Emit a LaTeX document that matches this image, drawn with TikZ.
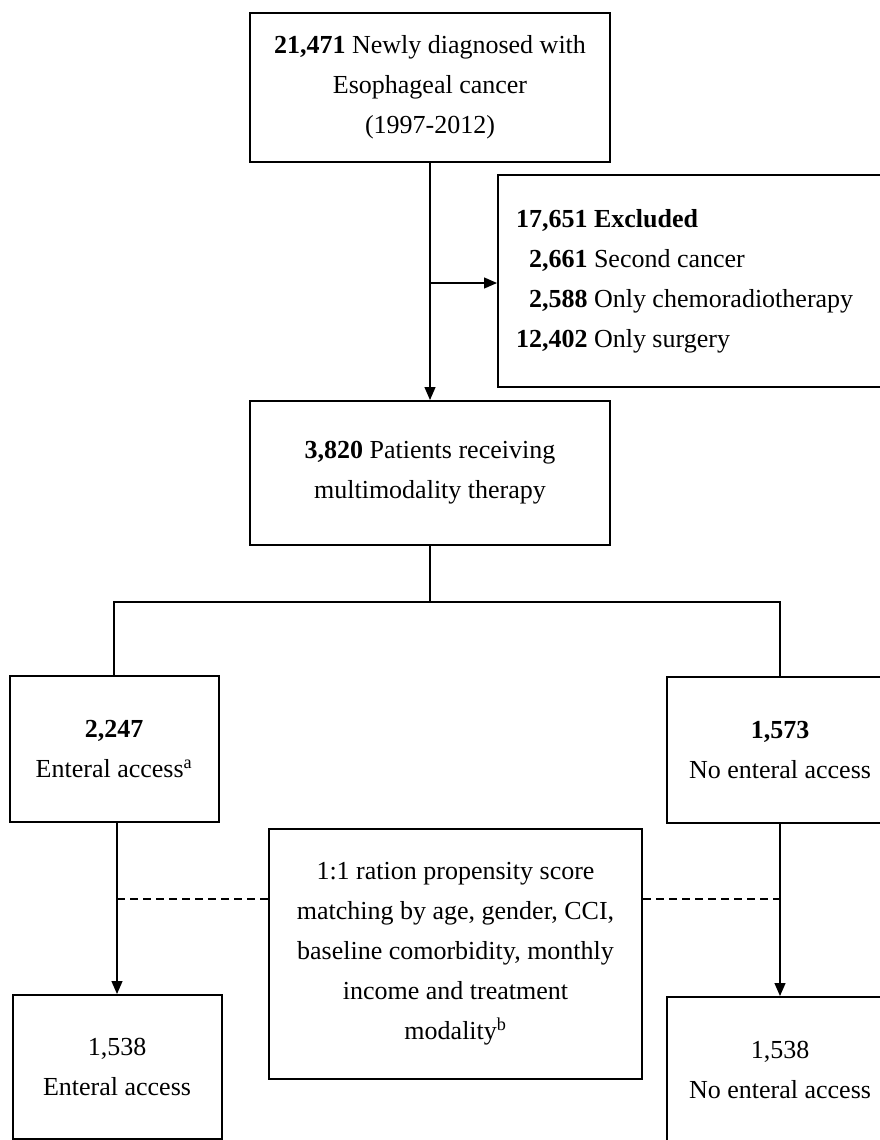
\documentclass[tikz,border=0pt]{standalone}
\usepackage{fontspec}
\setmainfont{Liberation Serif}
\usetikzlibrary{arrows.meta}
\begin{document}
\begin{tikzpicture}[x=1pt,y=1pt,
  box/.style={draw, line width=2pt, inner sep=0pt, align=center,
    font=\fontsize{26pt}{40pt}\selectfont},
  conn/.style={line width=1.3pt},
  arr/.style={conn, -{Triangle[length=13pt,width=11pt]}},
  dsh/.style={line width=1.3pt, dash pattern=on 8pt off 5pt}]
\useasboundingbox (0,0) rectangle (880,-1140);
\fill[white] (0,0) rectangle (880,-1140);

\node[box, minimum width=360, minimum height=149] (top) at (430,-87.5)
  {\textbf{21,471} Newly diagnosed with\\Esophageal cancer\\(1997-2012)};
\node[box, anchor=west, text width=360pt, align=flush left, inner xsep=18pt,
  minimum height=212] (excl) at (497,-281)
  {\textbf{17,651 Excluded}\\
   \phantom{1}\textbf{2,661} Second cancer\\
   \phantom{1}\textbf{2,588} Only chemoradiotherapy\\
   \textbf{12,402} Only surgery};
\node[box, minimum width=360, minimum height=144] (mid) at (430,-473)
  {\textbf{3,820} Patients receiving\\multimodality therapy};
\node[box, minimum width=209, minimum height=146] (left) at (114,-749)
  {\textbf{2,247}\\Enteral access\textsuperscript{a}};
\node[box, minimum width=226, minimum height=146] (right) at (780,-750)
  {\textbf{1,573}\\No enteral access};
\node[box, minimum width=373, minimum height=250] (match) at (455.5,-954)
  {1:1 ration propensity score\\matching by age, gender, CCI,\\baseline comorbidity, monthly\\income and treatment\\modality\textsuperscript{b}};
\node[box, minimum width=209, minimum height=144] (bl) at (117,-1067)
  {1,538\\Enteral access};
\node[box, minimum width=226, minimum height=146] (br) at (780,-1070)
  {1,538\\No enteral access};

\draw[arr] (top.south) -- (mid.north);
\coordinate (jx) at (430,-283);
\draw[arr] (jx) -- (jx -| excl.west);

\coordinate (split) at (430,-602);
\draw[conn] (mid.south) -- (split);
\draw[conn] (left.north) |- (split) -| (right.north);

\draw[arr] (bl.north |- left.south) -- (bl.north);
\draw[arr] (right.south) -- (br.north);

\coordinate (dl) at (117,-899);
\coordinate (dr) at (780,-899);
\draw[dsh] (dl) -- (dl -| match.west);
\draw[dsh] (match.east |- dr) -- (dr);
\end{tikzpicture}
\end{document}
